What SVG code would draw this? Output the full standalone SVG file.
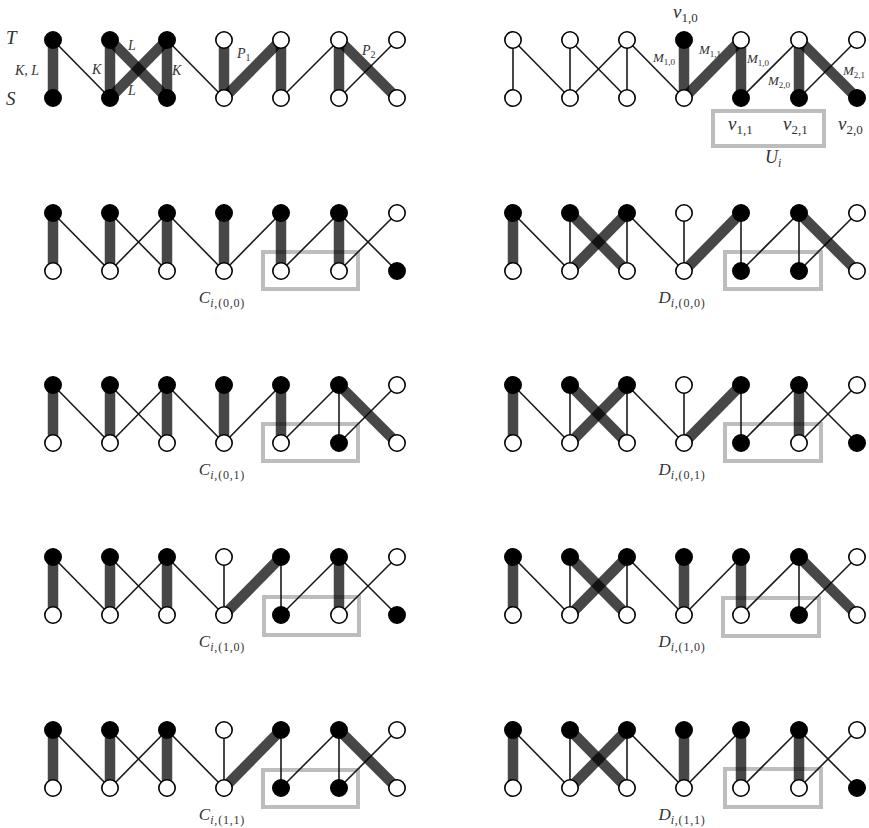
<svg xmlns="http://www.w3.org/2000/svg" width="869" height="828" viewBox="0 0 869 828">
<style>
.n{stroke:#1a1a1a;stroke-width:1.6;fill:none}
.k{stroke:#000;stroke-opacity:0.72;stroke-width:10.5;fill:none}
.w{fill:#fff;stroke:#000;stroke-width:1.6}
.b{fill:#000;stroke:#000;stroke-width:1.6}
.box{fill:none;stroke:#bdbdbd;stroke-width:4}
text{font-family:"Liberation Serif",serif;fill:#333}
.i{font-style:italic}
</style>
<rect width="869" height="828" fill="#fff"/>

<!-- Panel: start (top-left) -->
<g id="start" transform="translate(0,40)">
<g id="start-edges">
<line class="n" x1="53" y1="0" x2="110" y2="58"/>
<line class="n" x1="167" y1="0" x2="224" y2="58"/>
<line class="n" x1="339" y1="0" x2="281" y2="58"/>
<line class="n" x1="397" y1="0" x2="339" y2="58"/>
<line class="k" x1="53" y1="0" x2="53" y2="58"/>
<line class="k" x1="110" y1="0" x2="110" y2="58"/>
<line class="k" x1="110" y1="0" x2="167" y2="58"/>
<line class="k" x1="167" y1="0" x2="110" y2="58"/>
<line class="k" x1="167" y1="0" x2="167" y2="58"/>
<line class="k" x1="224" y1="0" x2="224" y2="58"/>
<line class="k" x1="281" y1="0" x2="224" y2="58"/>
<line class="k" x1="281" y1="0" x2="281" y2="58"/>
<line class="k" x1="339" y1="0" x2="339" y2="58"/>
<line class="k" x1="339" y1="0" x2="397" y2="58"/>
</g>
<g id="start-t0"><circle class="b" cx="53" cy="0" r="8.2"/></g>
<g id="start-t1"><circle class="b" cx="110" cy="0" r="8.2"/></g>
<g id="start-t2"><circle class="b" cx="167" cy="0" r="8.2"/></g>
<g id="start-t3"><circle class="w" cx="224" cy="0" r="8.2"/></g>
<g id="start-t4"><circle class="w" cx="281" cy="0" r="8.2"/></g>
<g id="start-t5"><circle class="w" cx="339" cy="0" r="8.2"/></g>
<g id="start-t6"><circle class="w" cx="397" cy="0" r="8.2"/></g>
<g id="start-s0"><circle class="b" cx="53" cy="58" r="8.2"/></g>
<g id="start-s1"><circle class="b" cx="110" cy="58" r="8.2"/></g>
<g id="start-s2"><circle class="b" cx="167" cy="58" r="8.2"/></g>
<g id="start-s3"><circle class="w" cx="224" cy="58" r="8.2"/></g>
<g id="start-s4"><circle class="w" cx="281" cy="58" r="8.2"/></g>
<g id="start-s5"><circle class="w" cx="339" cy="58" r="8.2"/></g>
<g id="start-s6"><circle class="w" cx="397" cy="58" r="8.2"/></g>
</g>
<text class="i" x="6" y="44" font-size="19">T</text>
<text class="i" x="6" y="105" font-size="19">S</text>
<text class="i" x="15" y="75" font-size="14">K, L</text>
<text class="i" x="92" y="74" font-size="14">K</text>
<text class="i" x="128" y="50" font-size="14">L</text>
<text class="i" x="128" y="95" font-size="14">L</text>
<text class="i" x="172" y="75" font-size="14">K</text>
<text x="237" y="58" font-size="14"><tspan class="i">P</tspan><tspan font-size="10" dy="3">1</tspan></text>
<text x="362" y="55" font-size="14"><tspan class="i">P</tspan><tspan font-size="10" dy="3">2</tspan></text>

<!-- Panel: top-right -->
<g id="gadget" transform="translate(460,40)">
<g id="gadget-edges">
<line class="n" x1="53" y1="0" x2="53" y2="58"/>
<line class="n" x1="53" y1="0" x2="110" y2="58"/>
<line class="n" x1="110" y1="0" x2="110" y2="58"/>
<line class="n" x1="110" y1="0" x2="167" y2="58"/>
<line class="n" x1="167" y1="0" x2="110" y2="58"/>
<line class="n" x1="167" y1="0" x2="167" y2="58"/>
<line class="n" x1="167" y1="0" x2="224" y2="58"/>
<line class="n" x1="339" y1="0" x2="281" y2="58"/>
<line class="n" x1="397" y1="0" x2="339" y2="58"/>
<line class="k" x1="224" y1="0" x2="224" y2="58"/>
<line class="k" x1="281" y1="0" x2="224" y2="58"/>
<line class="k" x1="281" y1="0" x2="281" y2="58"/>
<line class="k" x1="339" y1="0" x2="339" y2="58"/>
<line class="k" x1="339" y1="0" x2="397" y2="58"/>
</g>
<g id="gadget-t0"><circle class="w" cx="53" cy="0" r="8.2"/></g>
<g id="gadget-t1"><circle class="w" cx="110" cy="0" r="8.2"/></g>
<g id="gadget-t2"><circle class="w" cx="167" cy="0" r="8.2"/></g>
<g id="gadget-t3"><circle class="b" cx="224" cy="0" r="8.2"/></g>
<g id="gadget-t4"><circle class="w" cx="281" cy="0" r="8.2"/></g>
<g id="gadget-t5"><circle class="w" cx="339" cy="0" r="8.2"/></g>
<g id="gadget-t6"><circle class="w" cx="397" cy="0" r="8.2"/></g>
<g id="gadget-s0"><circle class="w" cx="53" cy="58" r="8.2"/></g>
<g id="gadget-s1"><circle class="w" cx="110" cy="58" r="8.2"/></g>
<g id="gadget-s2"><circle class="w" cx="167" cy="58" r="8.2"/></g>
<g id="gadget-s3"><circle class="w" cx="224" cy="58" r="8.2"/></g>
<g id="gadget-s4"><circle class="b" cx="281" cy="58" r="8.2"/></g>
<g id="gadget-s5"><circle class="b" cx="339" cy="58" r="8.2"/></g>
<g id="gadget-s6"><circle class="b" cx="397" cy="58" r="8.2"/></g>
</g>
<rect class="box" x="713" y="111" width="111" height="35"/>
<text x="673" y="18" font-size="19"><tspan class="i">v</tspan><tspan font-size="13" dy="4">1,0</tspan></text>
<text x="728" y="130" font-size="19"><tspan class="i">v</tspan><tspan font-size="13" dy="4">1,1</tspan></text>
<text x="783" y="130" font-size="19"><tspan class="i">v</tspan><tspan font-size="13" dy="4">2,1</tspan></text>
<text x="838" y="130" font-size="19"><tspan class="i">v</tspan><tspan font-size="13" dy="4">2,0</tspan></text>
<text x="765" y="163" font-size="18"><tspan class="i">U</tspan><tspan class="i" font-size="12" dy="4">i</tspan></text>
<text x="653" y="62" font-size="13"><tspan class="i">M</tspan><tspan font-size="9" dy="3">1,0</tspan></text>
<text x="699" y="54" font-size="13"><tspan class="i">M</tspan><tspan font-size="9" dy="3">1,1</tspan></text>
<text x="747" y="63" font-size="13"><tspan class="i">M</tspan><tspan font-size="9" dy="3">1,0</tspan></text>
<text x="768" y="85" font-size="13"><tspan class="i">M</tspan><tspan font-size="9" dy="3">2,0</tspan></text>
<text x="843" y="75" font-size="13"><tspan class="i">M</tspan><tspan font-size="9" dy="3">2,1</tspan></text>

<!-- C(0,0) -->
<g id="c00" transform="translate(0,213)">
<rect class="box" x="263" y="39" width="95" height="37"/>
<g id="c00-edges">
<line class="n" x1="53" y1="0" x2="110" y2="58"/>
<line class="n" x1="110" y1="0" x2="167" y2="58"/>
<line class="n" x1="167" y1="0" x2="110" y2="58"/>
<line class="n" x1="167" y1="0" x2="224" y2="58"/>
<line class="n" x1="281" y1="0" x2="224" y2="58"/>
<line class="n" x1="339" y1="0" x2="281" y2="58"/>
<line class="n" x1="339" y1="0" x2="397" y2="58"/>
<line class="n" x1="397" y1="0" x2="339" y2="58"/>
<line class="k" x1="53" y1="0" x2="53" y2="58"/>
<line class="k" x1="110" y1="0" x2="110" y2="58"/>
<line class="k" x1="167" y1="0" x2="167" y2="58"/>
<line class="k" x1="224" y1="0" x2="224" y2="58"/>
<line class="k" x1="281" y1="0" x2="281" y2="58"/>
<line class="k" x1="339" y1="0" x2="339" y2="58"/>
</g>
<g id="c00-t0"><circle class="b" cx="53" cy="0" r="8.2"/></g>
<g id="c00-t1"><circle class="b" cx="110" cy="0" r="8.2"/></g>
<g id="c00-t2"><circle class="b" cx="167" cy="0" r="8.2"/></g>
<g id="c00-t3"><circle class="b" cx="224" cy="0" r="8.2"/></g>
<g id="c00-t4"><circle class="b" cx="281" cy="0" r="8.2"/></g>
<g id="c00-t5"><circle class="b" cx="339" cy="0" r="8.2"/></g>
<g id="c00-t6"><circle class="w" cx="397" cy="0" r="8.2"/></g>
<g id="c00-s0"><circle class="w" cx="53" cy="58" r="8.2"/></g>
<g id="c00-s1"><circle class="w" cx="110" cy="58" r="8.2"/></g>
<g id="c00-s2"><circle class="w" cx="167" cy="58" r="8.2"/></g>
<g id="c00-s3"><circle class="w" cx="224" cy="58" r="8.2"/></g>
<g id="c00-s4"><circle class="w" cx="281" cy="58" r="8.2"/></g>
<g id="c00-s5"><circle class="w" cx="339" cy="58" r="8.2"/></g>
<g id="c00-s6"><circle class="b" cx="397" cy="58" r="8.2"/></g>
<text x="222" y="90" text-anchor="middle" font-size="17"><tspan class="i">C</tspan><tspan font-size="12" dy="4" letter-spacing="0.8"><tspan class="i">i</tspan>,(0,0)</tspan></text>
</g>

<!-- D(0,0) -->
<g id="d00" transform="translate(460,213)">
<rect class="box" x="265" y="39" width="96" height="37"/>
<g id="d00-edges">
<line class="n" x1="53" y1="0" x2="110" y2="58"/>
<line class="n" x1="110" y1="0" x2="110" y2="58"/>
<line class="n" x1="167" y1="0" x2="167" y2="58"/>
<line class="n" x1="167" y1="0" x2="224" y2="58"/>
<line class="n" x1="224" y1="0" x2="224" y2="58"/>
<line class="n" x1="281" y1="0" x2="281" y2="58"/>
<line class="n" x1="339" y1="0" x2="281" y2="58"/>
<line class="n" x1="339" y1="0" x2="339" y2="58"/>
<line class="n" x1="397" y1="0" x2="339" y2="58"/>
<line class="k" x1="53" y1="0" x2="53" y2="58"/>
<line class="k" x1="110" y1="0" x2="167" y2="58"/>
<line class="k" x1="167" y1="0" x2="110" y2="58"/>
<line class="k" x1="281" y1="0" x2="224" y2="58"/>
<line class="k" x1="339" y1="0" x2="397" y2="58"/>
</g>
<g id="d00-t0"><circle class="b" cx="53" cy="0" r="8.2"/></g>
<g id="d00-t1"><circle class="b" cx="110" cy="0" r="8.2"/></g>
<g id="d00-t2"><circle class="b" cx="167" cy="0" r="8.2"/></g>
<g id="d00-t3"><circle class="w" cx="224" cy="0" r="8.2"/></g>
<g id="d00-t4"><circle class="b" cx="281" cy="0" r="8.2"/></g>
<g id="d00-t5"><circle class="b" cx="339" cy="0" r="8.2"/></g>
<g id="d00-t6"><circle class="w" cx="397" cy="0" r="8.2"/></g>
<g id="d00-s0"><circle class="w" cx="53" cy="58" r="8.2"/></g>
<g id="d00-s1"><circle class="w" cx="110" cy="58" r="8.2"/></g>
<g id="d00-s2"><circle class="w" cx="167" cy="58" r="8.2"/></g>
<g id="d00-s3"><circle class="w" cx="224" cy="58" r="8.2"/></g>
<g id="d00-s4"><circle class="b" cx="281" cy="58" r="8.2"/></g>
<g id="d00-s5"><circle class="b" cx="339" cy="58" r="8.2"/></g>
<g id="d00-s6"><circle class="w" cx="397" cy="58" r="8.2"/></g>
<text x="222" y="90" text-anchor="middle" font-size="17"><tspan class="i">D</tspan><tspan font-size="12" dy="4" letter-spacing="0.8"><tspan class="i">i</tspan>,(0,0)</tspan></text>
</g>

<!-- C(0,1) -->
<g id="c01" transform="translate(0,385)">
<rect class="box" x="263" y="39" width="95" height="37"/>
<g id="c01-edges">
<line class="n" x1="53" y1="0" x2="110" y2="58"/>
<line class="n" x1="110" y1="0" x2="167" y2="58"/>
<line class="n" x1="167" y1="0" x2="110" y2="58"/>
<line class="n" x1="167" y1="0" x2="224" y2="58"/>
<line class="n" x1="281" y1="0" x2="224" y2="58"/>
<line class="n" x1="339" y1="0" x2="281" y2="58"/>
<line class="n" x1="339" y1="0" x2="339" y2="58"/>
<line class="n" x1="397" y1="0" x2="339" y2="58"/>
<line class="k" x1="53" y1="0" x2="53" y2="58"/>
<line class="k" x1="110" y1="0" x2="110" y2="58"/>
<line class="k" x1="167" y1="0" x2="167" y2="58"/>
<line class="k" x1="224" y1="0" x2="224" y2="58"/>
<line class="k" x1="281" y1="0" x2="281" y2="58"/>
<line class="k" x1="339" y1="0" x2="397" y2="58"/>
</g>
<g id="c01-t0"><circle class="b" cx="53" cy="0" r="8.2"/></g>
<g id="c01-t1"><circle class="b" cx="110" cy="0" r="8.2"/></g>
<g id="c01-t2"><circle class="b" cx="167" cy="0" r="8.2"/></g>
<g id="c01-t3"><circle class="b" cx="224" cy="0" r="8.2"/></g>
<g id="c01-t4"><circle class="b" cx="281" cy="0" r="8.2"/></g>
<g id="c01-t5"><circle class="b" cx="339" cy="0" r="8.2"/></g>
<g id="c01-t6"><circle class="w" cx="397" cy="0" r="8.2"/></g>
<g id="c01-s0"><circle class="w" cx="53" cy="58" r="8.2"/></g>
<g id="c01-s1"><circle class="w" cx="110" cy="58" r="8.2"/></g>
<g id="c01-s2"><circle class="w" cx="167" cy="58" r="8.2"/></g>
<g id="c01-s3"><circle class="w" cx="224" cy="58" r="8.2"/></g>
<g id="c01-s4"><circle class="w" cx="281" cy="58" r="8.2"/></g>
<g id="c01-s5"><circle class="b" cx="339" cy="58" r="8.2"/></g>
<g id="c01-s6"><circle class="w" cx="397" cy="58" r="8.2"/></g>
<text x="222" y="90" text-anchor="middle" font-size="17"><tspan class="i">C</tspan><tspan font-size="12" dy="4" letter-spacing="0.8"><tspan class="i">i</tspan>,(0,1)</tspan></text>
</g>

<!-- D(0,1) -->
<g id="d01" transform="translate(460,385)">
<rect class="box" x="265" y="39" width="96" height="37"/>
<g id="d01-edges">
<line class="n" x1="53" y1="0" x2="110" y2="58"/>
<line class="n" x1="110" y1="0" x2="110" y2="58"/>
<line class="n" x1="167" y1="0" x2="167" y2="58"/>
<line class="n" x1="167" y1="0" x2="224" y2="58"/>
<line class="n" x1="224" y1="0" x2="224" y2="58"/>
<line class="n" x1="281" y1="0" x2="281" y2="58"/>
<line class="n" x1="339" y1="0" x2="281" y2="58"/>
<line class="n" x1="339" y1="0" x2="397" y2="58"/>
<line class="n" x1="397" y1="0" x2="339" y2="58"/>
<line class="k" x1="53" y1="0" x2="53" y2="58"/>
<line class="k" x1="110" y1="0" x2="167" y2="58"/>
<line class="k" x1="167" y1="0" x2="110" y2="58"/>
<line class="k" x1="281" y1="0" x2="224" y2="58"/>
<line class="k" x1="339" y1="0" x2="339" y2="58"/>
</g>
<g id="d01-t0"><circle class="b" cx="53" cy="0" r="8.2"/></g>
<g id="d01-t1"><circle class="b" cx="110" cy="0" r="8.2"/></g>
<g id="d01-t2"><circle class="b" cx="167" cy="0" r="8.2"/></g>
<g id="d01-t3"><circle class="w" cx="224" cy="0" r="8.2"/></g>
<g id="d01-t4"><circle class="b" cx="281" cy="0" r="8.2"/></g>
<g id="d01-t5"><circle class="b" cx="339" cy="0" r="8.2"/></g>
<g id="d01-t6"><circle class="w" cx="397" cy="0" r="8.2"/></g>
<g id="d01-s0"><circle class="w" cx="53" cy="58" r="8.2"/></g>
<g id="d01-s1"><circle class="w" cx="110" cy="58" r="8.2"/></g>
<g id="d01-s2"><circle class="w" cx="167" cy="58" r="8.2"/></g>
<g id="d01-s3"><circle class="w" cx="224" cy="58" r="8.2"/></g>
<g id="d01-s4"><circle class="b" cx="281" cy="58" r="8.2"/></g>
<g id="d01-s5"><circle class="w" cx="339" cy="58" r="8.2"/></g>
<g id="d01-s6"><circle class="b" cx="397" cy="58" r="8.2"/></g>
<text x="222" y="90" text-anchor="middle" font-size="17"><tspan class="i">D</tspan><tspan font-size="12" dy="4" letter-spacing="0.8"><tspan class="i">i</tspan>,(0,1)</tspan></text>
</g>

<!-- C(1,0) -->
<g id="c10" transform="translate(0,557)">
<rect class="box" x="264" y="40" width="95" height="38"/>
<g id="c10-edges">
<line class="n" x1="53" y1="0" x2="110" y2="58"/>
<line class="n" x1="110" y1="0" x2="167" y2="58"/>
<line class="n" x1="167" y1="0" x2="110" y2="58"/>
<line class="n" x1="167" y1="0" x2="224" y2="58"/>
<line class="n" x1="224" y1="0" x2="224" y2="58"/>
<line class="n" x1="281" y1="0" x2="281" y2="58"/>
<line class="n" x1="339" y1="0" x2="281" y2="58"/>
<line class="n" x1="339" y1="0" x2="397" y2="58"/>
<line class="n" x1="397" y1="0" x2="339" y2="58"/>
<line class="k" x1="53" y1="0" x2="53" y2="58"/>
<line class="k" x1="110" y1="0" x2="110" y2="58"/>
<line class="k" x1="167" y1="0" x2="167" y2="58"/>
<line class="k" x1="281" y1="0" x2="224" y2="58"/>
<line class="k" x1="339" y1="0" x2="339" y2="58"/>
</g>
<g id="c10-t0"><circle class="b" cx="53" cy="0" r="8.2"/></g>
<g id="c10-t1"><circle class="b" cx="110" cy="0" r="8.2"/></g>
<g id="c10-t2"><circle class="b" cx="167" cy="0" r="8.2"/></g>
<g id="c10-t3"><circle class="w" cx="224" cy="0" r="8.2"/></g>
<g id="c10-t4"><circle class="b" cx="281" cy="0" r="8.2"/></g>
<g id="c10-t5"><circle class="b" cx="339" cy="0" r="8.2"/></g>
<g id="c10-t6"><circle class="w" cx="397" cy="0" r="8.2"/></g>
<g id="c10-s0"><circle class="w" cx="53" cy="58" r="8.2"/></g>
<g id="c10-s1"><circle class="w" cx="110" cy="58" r="8.2"/></g>
<g id="c10-s2"><circle class="w" cx="167" cy="58" r="8.2"/></g>
<g id="c10-s3"><circle class="w" cx="224" cy="58" r="8.2"/></g>
<g id="c10-s4"><circle class="b" cx="281" cy="58" r="8.2"/></g>
<g id="c10-s5"><circle class="w" cx="339" cy="58" r="8.2"/></g>
<g id="c10-s6"><circle class="b" cx="397" cy="58" r="8.2"/></g>
<text x="222" y="90" text-anchor="middle" font-size="17"><tspan class="i">C</tspan><tspan font-size="12" dy="4" letter-spacing="0.8"><tspan class="i">i</tspan>,(1,0)</tspan></text>
</g>

<!-- D(1,0) -->
<g id="d10" transform="translate(460,557)">
<rect class="box" x="263" y="41" width="96" height="38"/>
<g id="d10-edges">
<line class="n" x1="53" y1="0" x2="110" y2="58"/>
<line class="n" x1="110" y1="0" x2="110" y2="58"/>
<line class="n" x1="167" y1="0" x2="167" y2="58"/>
<line class="n" x1="167" y1="0" x2="224" y2="58"/>
<line class="n" x1="281" y1="0" x2="224" y2="58"/>
<line class="n" x1="339" y1="0" x2="281" y2="58"/>
<line class="n" x1="339" y1="0" x2="339" y2="58"/>
<line class="n" x1="397" y1="0" x2="339" y2="58"/>
<line class="k" x1="53" y1="0" x2="53" y2="58"/>
<line class="k" x1="110" y1="0" x2="167" y2="58"/>
<line class="k" x1="167" y1="0" x2="110" y2="58"/>
<line class="k" x1="224" y1="0" x2="224" y2="58"/>
<line class="k" x1="281" y1="0" x2="281" y2="58"/>
<line class="k" x1="339" y1="0" x2="397" y2="58"/>
</g>
<g id="d10-t0"><circle class="b" cx="53" cy="0" r="8.2"/></g>
<g id="d10-t1"><circle class="b" cx="110" cy="0" r="8.2"/></g>
<g id="d10-t2"><circle class="b" cx="167" cy="0" r="8.2"/></g>
<g id="d10-t3"><circle class="b" cx="224" cy="0" r="8.2"/></g>
<g id="d10-t4"><circle class="b" cx="281" cy="0" r="8.2"/></g>
<g id="d10-t5"><circle class="b" cx="339" cy="0" r="8.2"/></g>
<g id="d10-t6"><circle class="w" cx="397" cy="0" r="8.2"/></g>
<g id="d10-s0"><circle class="w" cx="53" cy="58" r="8.2"/></g>
<g id="d10-s1"><circle class="w" cx="110" cy="58" r="8.2"/></g>
<g id="d10-s2"><circle class="w" cx="167" cy="58" r="8.2"/></g>
<g id="d10-s3"><circle class="w" cx="224" cy="58" r="8.2"/></g>
<g id="d10-s4"><circle class="w" cx="281" cy="58" r="8.2"/></g>
<g id="d10-s5"><circle class="b" cx="339" cy="58" r="8.2"/></g>
<g id="d10-s6"><circle class="w" cx="397" cy="58" r="8.2"/></g>
<text x="222" y="90" text-anchor="middle" font-size="17"><tspan class="i">D</tspan><tspan font-size="12" dy="4" letter-spacing="0.8"><tspan class="i">i</tspan>,(1,0)</tspan></text>
</g>

<!-- C(1,1) -->
<g id="c11" transform="translate(0,730)">
<rect class="box" x="263" y="40" width="95" height="37"/>
<g id="c11-edges">
<line class="n" x1="53" y1="0" x2="110" y2="58"/>
<line class="n" x1="110" y1="0" x2="167" y2="58"/>
<line class="n" x1="167" y1="0" x2="110" y2="58"/>
<line class="n" x1="167" y1="0" x2="224" y2="58"/>
<line class="n" x1="224" y1="0" x2="224" y2="58"/>
<line class="n" x1="281" y1="0" x2="281" y2="58"/>
<line class="n" x1="339" y1="0" x2="281" y2="58"/>
<line class="n" x1="339" y1="0" x2="339" y2="58"/>
<line class="n" x1="397" y1="0" x2="339" y2="58"/>
<line class="k" x1="53" y1="0" x2="53" y2="58"/>
<line class="k" x1="110" y1="0" x2="110" y2="58"/>
<line class="k" x1="167" y1="0" x2="167" y2="58"/>
<line class="k" x1="281" y1="0" x2="224" y2="58"/>
<line class="k" x1="339" y1="0" x2="397" y2="58"/>
</g>
<g id="c11-t0"><circle class="b" cx="53" cy="0" r="8.2"/></g>
<g id="c11-t1"><circle class="b" cx="110" cy="0" r="8.2"/></g>
<g id="c11-t2"><circle class="b" cx="167" cy="0" r="8.2"/></g>
<g id="c11-t3"><circle class="w" cx="224" cy="0" r="8.2"/></g>
<g id="c11-t4"><circle class="b" cx="281" cy="0" r="8.2"/></g>
<g id="c11-t5"><circle class="b" cx="339" cy="0" r="8.2"/></g>
<g id="c11-t6"><circle class="w" cx="397" cy="0" r="8.2"/></g>
<g id="c11-s0"><circle class="w" cx="53" cy="58" r="8.2"/></g>
<g id="c11-s1"><circle class="w" cx="110" cy="58" r="8.2"/></g>
<g id="c11-s2"><circle class="w" cx="167" cy="58" r="8.2"/></g>
<g id="c11-s3"><circle class="w" cx="224" cy="58" r="8.2"/></g>
<g id="c11-s4"><circle class="b" cx="281" cy="58" r="8.2"/></g>
<g id="c11-s5"><circle class="b" cx="339" cy="58" r="8.2"/></g>
<g id="c11-s6"><circle class="w" cx="397" cy="58" r="8.2"/></g>
<text x="222" y="90" text-anchor="middle" font-size="17"><tspan class="i">C</tspan><tspan font-size="12" dy="4" letter-spacing="0.8"><tspan class="i">i</tspan>,(1,1)</tspan></text>
</g>

<!-- D(1,1) -->
<g id="d11" transform="translate(460,730)">
<rect class="box" x="265" y="39" width="96" height="38"/>
<g id="d11-edges">
<line class="n" x1="53" y1="0" x2="110" y2="58"/>
<line class="n" x1="110" y1="0" x2="110" y2="58"/>
<line class="n" x1="167" y1="0" x2="167" y2="58"/>
<line class="n" x1="167" y1="0" x2="224" y2="58"/>
<line class="n" x1="281" y1="0" x2="224" y2="58"/>
<line class="n" x1="339" y1="0" x2="281" y2="58"/>
<line class="n" x1="339" y1="0" x2="397" y2="58"/>
<line class="n" x1="397" y1="0" x2="339" y2="58"/>
<line class="k" x1="53" y1="0" x2="53" y2="58"/>
<line class="k" x1="110" y1="0" x2="167" y2="58"/>
<line class="k" x1="167" y1="0" x2="110" y2="58"/>
<line class="k" x1="224" y1="0" x2="224" y2="58"/>
<line class="k" x1="281" y1="0" x2="281" y2="58"/>
<line class="k" x1="339" y1="0" x2="339" y2="58"/>
</g>
<g id="d11-t0"><circle class="b" cx="53" cy="0" r="8.2"/></g>
<g id="d11-t1"><circle class="b" cx="110" cy="0" r="8.2"/></g>
<g id="d11-t2"><circle class="b" cx="167" cy="0" r="8.2"/></g>
<g id="d11-t3"><circle class="b" cx="224" cy="0" r="8.2"/></g>
<g id="d11-t4"><circle class="b" cx="281" cy="0" r="8.2"/></g>
<g id="d11-t5"><circle class="b" cx="339" cy="0" r="8.2"/></g>
<g id="d11-t6"><circle class="w" cx="397" cy="0" r="8.2"/></g>
<g id="d11-s0"><circle class="w" cx="53" cy="58" r="8.2"/></g>
<g id="d11-s1"><circle class="w" cx="110" cy="58" r="8.2"/></g>
<g id="d11-s2"><circle class="w" cx="167" cy="58" r="8.2"/></g>
<g id="d11-s3"><circle class="w" cx="224" cy="58" r="8.2"/></g>
<g id="d11-s4"><circle class="w" cx="281" cy="58" r="8.2"/></g>
<g id="d11-s5"><circle class="w" cx="339" cy="58" r="8.2"/></g>
<g id="d11-s6"><circle class="b" cx="397" cy="58" r="8.2"/></g>
<text x="222" y="90" text-anchor="middle" font-size="17"><tspan class="i">D</tspan><tspan font-size="12" dy="4" letter-spacing="0.8"><tspan class="i">i</tspan>,(1,1)</tspan></text>
</g>
</svg>
